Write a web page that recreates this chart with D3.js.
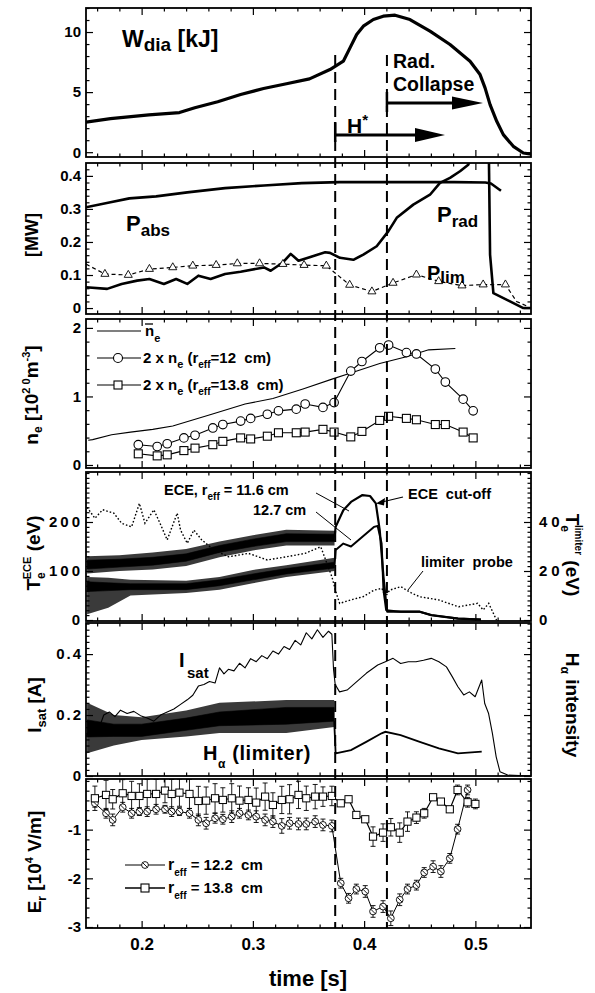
<!DOCTYPE html>
<html>
<head>
<meta charset="utf-8">
<script src="https://cdn.jsdelivr.net/npm/d3@7/dist/d3.min.js"></script>
<style>
html,body{margin:0;padding:0;background:#fff;}
svg text{font-family:"Liberation Sans",Arial,Helvetica,sans-serif;font-weight:bold;fill:#000;white-space:pre;}
</style>
</head>
<body>
<svg id="chart" width="595" height="993"></svg>
<script>
// ================= DATA =================
const timeTicks = [0.2, 0.3, 0.4, 0.5];
const transitions = [0.374, 0.4205];

// Panel 1: diamagnetic energy (kJ)
const wdiaTicks = [0, 5, 10];
const wdiaTime = [0.150,0.172,0.2065,0.234,0.2478,0.2684,0.289,0.3096,0.3302,0.3509,0.3693,0.3813,0.3873,0.3933,0.3993,0.4083,0.4172,0.4278,0.4412,0.4592,0.4772,0.4952,0.5042,0.5087,0.5132,0.5192,0.5251,0.5341,0.5431,0.5536];
const wdiaKJ   = [2.5,2.8,3.1,3.3,3.7,4.2,4.8,5.3,5.7,6.1,6.88,7.57,8.68,9.79,10.49,11.04,11.32,11.4,11.04,10.07,8.96,7.57,6.46,5.35,3.96,2.57,1.46,0.49,-0.07,-0.2];

// Panel 2: powers (MW)
const powerTicks = [0, 0.1, 0.2, 0.3, 0.4];
const pabsTime = [0.150,0.172,0.189,0.213,0.241,0.275,0.310,0.344,0.378,0.413,0.447,0.481,0.509,0.514,0.523];
const pabsMW   = [0.305,0.32,0.332,0.338,0.35,0.363,0.371,0.378,0.381,0.381,0.381,0.381,0.38,0.377,0.355];
const pradTime = [0.150,0.169,0.182,0.196,0.207,0.220,0.231,0.241,0.251,0.262,0.275,0.289,0.310,0.316,0.327,0.334,0.341,0.351,0.365,0.3693,0.3783,0.3903,0.3993,0.4113,0.4217,0.4293,0.4442,0.4592,0.4682,0.4772,0.4862,0.4936,0.502,0.512,0.5132,0.5162,0.5311,0.5431,0.55];
const pradMW   = [0.063,0.058,0.073,0.083,0.088,0.073,0.088,0.073,0.098,0.088,0.103,0.11,0.123,0.113,0.138,0.164,0.143,0.154,0.169,0.167,0.152,0.146,0.162,0.187,0.232,0.273,0.313,0.343,0.379,0.394,0.414,0.434,0.5,0.5,0.162,0.045,0.02,0.0,0];
const plimTime = [0.150,0.167,0.188,0.207,0.228,0.246,0.267,0.286,0.306,0.327,0.346,0.366,0.387,0.407,0.426,0.447,0.467,0.488,0.507,0.527,0.537,0.547];
const plimMW   = [0.133,0.103,0.10,0.118,0.123,0.128,0.13,0.135,0.135,0.133,0.13,0.128,0.07,0.05,0.076,0.101,0.081,0.068,0.071,0.071,0.02,0.005];

// Panel 3: density (1e20 m^-3)
const densityTicks = [0, 1, 2];
const neAvgTime = [0.152,0.156,0.173,0.190,0.210,0.228,0.263,0.293,0.318,0.345,0.3725,0.386,0.414,0.438,0.458,0.482];
const neAvg     = [0.36,0.37,0.44,0.48,0.52,0.57,0.74,0.89,0.97,1.11,1.26,1.33,1.48,1.58,1.68,1.70];
const neLocTime = [0.197,0.214,0.223,0.238,0.248,0.264,0.273,0.289,0.298,0.313,0.323,0.339,0.347,0.363,0.373,0.388,0.398,0.414,0.422,0.438,0.447,0.464,0.473,0.489,0.498];
const ne12cm    = [0.296,0.27,0.31,0.395,0.434,0.54,0.59,0.64,0.68,0.74,0.79,0.815,0.89,0.84,0.91,1.37,1.51,1.71,1.75,1.64,1.62,1.40,1.21,0.96,0.79];
const ne138cm   = [0.163,0.133,0.148,0.21,0.246,0.296,0.345,0.395,0.38,0.42,0.47,0.47,0.48,0.52,0.48,0.41,0.49,0.65,0.71,0.68,0.66,0.59,0.59,0.48,0.395];

// Panel 4: temperatures (eV)
const teTicks = [0, 100, 200];
const teLimTicks = [0, 20, 40];
const ece116BandTime = [0.151,0.18,0.21,0.24,0.27,0.30,0.33,0.3734];
const ece116Upper = [130,132,138,145,160,173,184,182];
const ece116Lower = [95,100,103,110,128,142,152,152];
const ece116CoreUpper = [122,124,128,135,152,165,176,175];
const ece116CoreLower = [104,108,112,120,138,150,160,160];
const ece116Time = [0.3734,0.3744,0.3813,0.3882,0.3985,0.4053,0.4105,0.414,0.4174,0.4198,0.4208,0.4329,0.45,0.4604,0.4844,0.505];
const ece116 = [168,190,224,241,255,253,238,184,88,34,17,17,17,10,3,1];
const ece127BandTime = [0.151,0.17,0.19,0.24,0.27,0.30,0.33,0.3734];
const ece127Upper = [88,86,82,80,88,102,112,127];
const ece127Lower = [12,25,50,55,62,75,88,100];
const ece127CoreUpper = [78,76,74,74,82,94,105,118];
const ece127CoreLower = [58,60,62,62,70,82,94,106];
const ece127Time = [0.3734,0.3744,0.3813,0.3882,0.3985,0.4088,0.4122,0.4157,0.4174,0.4198,0.4329,0.45,0.4604,0.4844,0.505];
const ece127 = [112,143,156,150,170,190,192,156,61,20,17,17,10,3,1];
const teLimTime = [0.151,0.158,0.165,0.175,0.182,0.191,0.198,0.203,0.211,0.216,0.223,0.232,0.235,0.241,0.247,0.254,0.265,0.278,0.296,0.313,0.33,0.347,0.361,0.371,0.375,0.378,0.388,0.399,0.409,0.416,0.419,0.423,0.433,0.443,0.45,0.467,0.485,0.502,0.507,0.512,0.519];
const teLim = [46,41.5,45,43.6,39.5,38,47.6,39.5,45,40,32.7,43.6,36.7,31.3,36.7,32.7,28.6,25.8,27.2,24.5,25.8,27.2,29.9,17.7,10.9,6.8,8.2,9.5,12.2,12.9,9.5,12.2,13.6,10.9,9.5,8.2,5.4,6.8,4.1,6.8,0];

// Panel 5: ion saturation current (A) and H-alpha
const isatTicks = [0, 0.2, 0.4];
const isatTime = [0.150,0.156,0.161,0.166,0.171,0.176,0.181,0.187,0.193,0.199,0.205,0.211,0.217,0.223,0.229,0.235,0.241,0.246,0.251,0.256,0.261,0.266,0.27,0.274,0.278,0.283,0.288,0.293,0.298,0.303,0.308,0.313,0.318,0.323,0.328,0.333,0.338,0.343,0.348,0.353,0.358,0.363,0.368,0.371,0.3725,0.374,0.3779,0.3847,0.3916,0.4019,0.4122,0.4191,0.426,0.4328,0.4397,0.4466,0.4534,0.4603,0.4672,0.474,0.4792,0.4843,0.4895,0.4946,0.4998,0.5057,0.5084,0.5118,0.5153,0.5187,0.5221,0.529,0.55];
const isatA = [0.128,0.175,0.15,0.2,0.21,0.195,0.216,0.205,0.212,0.198,0.19,0.18,0.2,0.21,0.22,0.235,0.25,0.265,0.295,0.3,0.31,0.305,0.355,0.335,0.35,0.345,0.37,0.355,0.385,0.375,0.395,0.385,0.41,0.4,0.425,0.415,0.445,0.43,0.47,0.45,0.48,0.455,0.475,0.465,0.35,0.3,0.276,0.282,0.304,0.337,0.364,0.375,0.386,0.369,0.375,0.375,0.38,0.386,0.375,0.358,0.326,0.293,0.266,0.276,0.26,0.315,0.238,0.206,0.14,0.063,0.014,0.003,0];
const haBandTime = [0.151,0.175,0.2,0.24,0.27,0.33,0.3731];
const haUpper = [0.24,0.2,0.193,0.215,0.24,0.249,0.249];
const haLower = [0.075,0.1,0.118,0.13,0.141,0.141,0.161];
const haCoreUpper = [0.184,0.17,0.17,0.19,0.21,0.225,0.225];
const haCoreLower = [0.128,0.13,0.13,0.15,0.165,0.17,0.18];
const haTime = [0.3731,0.3744,0.3882,0.4019,0.4157,0.4191,0.4328,0.45,0.4672,0.4843,0.5057];
const haVal = [0.18,0.074,0.085,0.112,0.14,0.145,0.134,0.112,0.091,0.074,0.08];

// Panel 6: radial electric field (1e4 V/m)
const erTicks = [-3, -2, -1];
const erTime = [0.158,0.168,0.174,0.183,0.191,0.198,0.205,0.213,0.221,0.227,0.234,0.243,0.251,0.258,0.266,0.273,0.281,0.288,0.296,0.303,0.311,0.318,0.326,0.333,0.341,0.348,0.356,0.363,0.371,0.379,0.386,0.393,0.401,0.408,0.417,0.424,0.432,0.439,0.447,0.454,0.462,0.469,0.477,0.484,0.493,0.500];
const er138 = [-0.356,-0.287,-0.376,-0.253,-0.308,-0.308,-0.267,-0.267,-0.198,-0.267,-0.24,-0.267,-0.411,-0.404,-0.356,-0.39,-0.356,-0.404,-0.39,-0.445,-0.322,-0.493,-0.39,-0.376,-0.287,-0.356,-0.322,-0.322,-0.308,-0.459,-0.376,-0.698,-0.787,-1.143,-1.061,-0.951,-1.061,-0.835,-0.753,-0.664,-0.335,-0.424,-0.582,-0.185,-0.438,-0.472];
const er138Err = [0.25,0.3,0.2,0.28,0.3,0.25,0.3,0.3,0.25,0.3,0.28,0.3,0.3,0.28,0.3,0.25,0.3,0.3,0.25,0.3,0.28,0.25,0.28,0.3,0.28,0.25,0.25,0.2,0.2,0,0,0,0,0.2,0.18,0.18,0.2,0.2,0.12,0.1,0,0,0,0.1,0.1,0.1];
const er122 = [-0.459,-0.664,-0.80,-0.54,-0.664,-0.63,-0.63,-0.582,-0.582,-0.63,-0.63,-0.664,-0.80,-0.869,-0.767,-0.787,-0.733,-0.664,-0.698,-0.733,-0.80,-0.835,-0.924,-0.869,-0.883,-0.883,-0.835,-0.903,-0.924,-2.10,-2.41,-2.22,-2.27,-2.68,-2.58,-2.82,-2.44,-2.22,-2.14,-1.88,-1.76,-1.86,-1.59,-0.99,-0.185];
const er122Err = [0.08,0.1,0.12,0.1,0.1,0.08,0.1,0.1,0.08,0.1,0.08,0.1,0.12,0.12,0.1,0.1,0.12,0.1,0.1,0.12,0.12,0.12,0.15,0.12,0.12,0.12,0.12,0.12,0.12,0.1,0.1,0.1,0.12,0.12,0.12,0.15,0.12,0.1,0.1,0.1,0.12,0.12,0.1,0.1,0.1];

// ================= DRAWING =================
const FONT = '"Liberation Sans", Arial, Helvetica, sans-serif';
const svg = d3.select('#chart');
const defs = svg.append('defs');

const X0 = 86, X1 = 531;
const x = d3.scaleLinear().domain([0.15, 0.55]).range([X0, X1]);
const xMinor = d3.range(8, 28).map(i => +(i * 0.02).toFixed(2)).filter(v => !timeTicks.includes(v));

function styleAxis(a, size, ls) {
  a.select('.domain').remove();
  a.selectAll('.tick line').attr('stroke', '#000').attr('stroke-width', 1.2);
  a.selectAll('.tick text').attr('font-family', FONT).attr('font-weight', 'bold')
    .attr('font-size', size || 15).attr('fill', '#000').attr('letter-spacing', ls || 0);
}
function minorVals(domain, step, skip) {
  const lo = Math.ceil(domain[0] / step - 1e-9), hi = Math.floor(domain[1] / step + 1e-9);
  return d3.range(lo, hi + 1).map(i => +(i * step).toFixed(4)).filter(v => !skip.includes(v));
}

function makePanel(o) {
  const y = d3.scaleLinear().domain(o.domain).range([o.bottom, o.top]);
  const g = svg.append('g');
  const cid = 'clip-' + o.name;
  defs.append('clipPath').attr('id', cid).append('rect')
    .attr('x', X0).attr('y', o.top).attr('width', X1 - X0).attr('height', o.bottom - o.top);
  const plot = g.append('g').attr('clip-path', `url(#${cid})`);
  const axes = g.append('g');
  [[d3.axisBottom, o.bottom], [d3.axisTop, o.top]].forEach(([f, yy]) => {
    axes.append('g').attr('transform', `translate(0,${yy})`)
      .call(f(x).tickValues(timeTicks).tickSize(-7).tickFormat('')).call(s => styleAxis(s));
    axes.append('g').attr('transform', `translate(0,${yy})`)
      .call(f(x).tickValues(xMinor).tickSize(-3.5).tickFormat('')).call(s => styleAxis(s));
  });
  const minors = minorVals(o.domain, o.minorStep, o.yLabels);
  axes.append('g').attr('transform', `translate(${X0},0)`)
    .call(d3.axisLeft(y).tickValues(o.yLabels).tickSize(-7).tickPadding(o.pad || 5).tickFormat(o.fmt))
    .call(s => styleAxis(s, o.fs || 15, o.ls));
  axes.append('g').attr('transform', `translate(${X0},0)`)
    .call(d3.axisLeft(y).tickValues(minors).tickSize(-3.5).tickFormat('')).call(s => styleAxis(s));
  let yr = null;
  if (o.right) {
    yr = d3.scaleLinear().domain(o.right.domain).range([o.bottom, o.top]);
    axes.append('g').attr('transform', `translate(${X1},0)`)
      .call(d3.axisRight(yr).tickValues(o.right.labels).tickSize(-7).tickPadding(8).tickFormat(d => d))
      .call(s => styleAxis(s, 15, o.right.ls));
    axes.append('g').attr('transform', `translate(${X1},0)`)
      .call(d3.axisRight(yr).tickValues(minorVals(o.right.domain, o.right.minorStep, o.right.labels)).tickSize(-3.5).tickFormat(''))
      .call(s => styleAxis(s));
  } else {
    axes.append('g').attr('transform', `translate(${X1},0)`)
      .call(d3.axisRight(y).tickValues(o.yLabels).tickSize(-7).tickFormat('')).call(s => styleAxis(s));
    axes.append('g').attr('transform', `translate(${X1},0)`)
      .call(d3.axisRight(y).tickValues(minors).tickSize(-3.5).tickFormat('')).call(s => styleAxis(s));
  }
  g.append('rect').attr('x', X0).attr('y', o.top).attr('width', X1 - X0).attr('height', o.bottom - o.top)
    .attr('fill', 'none').attr('stroke', '#000').attr('stroke-width', 1.8);
  return { y, yr, g, plot };
}

function rich(parent, px, py, parts, attrs) {
  const t = parent.append('text').attr('x', px).attr('y', py);
  if (attrs) Object.entries(attrs).forEach(([k, v]) => t.attr(k, v));
  let cur = 0;
  parts.forEach(p => {
    const [s, fs, off = 0, dx = 0] = p;
    const ts = t.append('tspan').attr('font-size', fs).attr('dy', off - cur).text(s);
    if (dx) ts.attr('dx', dx);
    cur = off;
  });
  return t;
}
function rotLabel(cx, cy, angle, parts) {
  const g = svg.append('g').attr('transform', `translate(${cx},${cy}) rotate(${angle})`);
  rich(g, 0, 0, parts, { 'text-anchor': 'middle' });
}
function linePath(scaleY, ts, vs) {
  return d3.line().x(d => x(d[0])).y(d => scaleY(d[1]))(d3.zip(ts, vs));
}
function bandArea(ys, ts, lo, hi) {
  return d3.area().x(d => x(d[0])).y0(d => ys(d[1])).y1(d => ys(d[2]))(d3.zip(ts, lo, hi));
}
function noisyBand(p, ts, lo, hi, clo, chi) {
  p.plot.append('path').attr('d', bandArea(p.y, ts, lo, hi)).attr('fill', '#3a3a3a');
  p.plot.append('path').attr('d', bandArea(p.y, ts, clo, chi)).attr('fill', '#000').attr('stroke', '#000').attr('stroke-width', 0.6);
}
function arrowHead(g, tipX, tipY, len, half) {
  g.append('path').attr('d', d3.line()([[tipX - len, tipY - half], [tipX, tipY], [tipX - len, tipY + half]]) + 'Z')
    .attr('fill', '#000');
}

const fmt1 = d => d === 0 ? '0' : d3.format('.1f')(d);

// ---------- Panel 1 ----------
const p1 = makePanel({ name: 'w', top: 8, bottom: 157, domain: [-0.4, 12], yLabels: wdiaTicks, minorStep: 1, fmt: d3.format('d') });
p1.plot.append('path').attr('d', linePath(p1.y, wdiaTime, wdiaKJ))
  .attr('fill', 'none').attr('stroke', '#000').attr('stroke-width', 3.2).attr('stroke-linejoin', 'round');
rich(svg, 122, 47, [['W', 23], ['dia', 19, 4], [' [kJ]', 23, 0]]);
rich(svg, 393, 68, [['Rad.', 19.5]]);
rich(svg, 393, 91, [['Collapse', 19.5]]);
{
  const ya = 103, xs = x(transitions[1]), xe = 483;
  svg.append('line').attr('x1', xs).attr('x2', xe - 12).attr('y1', ya).attr('y2', ya).attr('stroke', '#000').attr('stroke-width', 3);
  arrowHead(svg, xe, ya, 31, 6.5);
  const yb = 135, xs2 = x(transitions[0]), xe2 = 445;
  svg.append('line').attr('x1', xs2).attr('x2', xe2 - 12).attr('y1', yb).attr('y2', yb).attr('stroke', '#000').attr('stroke-width', 3);
  arrowHead(svg, xe2, yb, 30, 7);
  svg.append('line').attr('x1', xs2).attr('x2', xs2).attr('y1', 122).attr('y2', 142).attr('stroke', '#000').attr('stroke-width', 2.5);
  svg.append('line').attr('x1', xs).attr('x2', xs).attr('y1', 92).attr('y2', 112).attr('stroke', '#000').attr('stroke-width', 2.5);
  rich(svg, 347, 133, [['H', 21], ['*', 15, -8]]);
}

// ---------- Panel 2 ----------
const p2 = makePanel({ name: 'p', top: 163, bottom: 314, domain: [-0.018, 0.439], yLabels: powerTicks, minorStep: 0.02, fmt: fmt1 });
p2.plot.append('path').attr('d', linePath(p2.y, pabsTime, pabsMW))
  .attr('fill', 'none').attr('stroke', '#000').attr('stroke-width', 2.6).attr('stroke-linejoin', 'round');
p2.plot.append('path').attr('d', linePath(p2.y, pradTime, pradMW))
  .attr('fill', 'none').attr('stroke', '#000').attr('stroke-width', 2.6).attr('stroke-linejoin', 'round');
p2.plot.append('path').attr('d', linePath(p2.y, plimTime, plimMW))
  .attr('fill', 'none').attr('stroke', '#000').attr('stroke-width', 1.2).attr('stroke-dasharray', '4,3');
p2.plot.selectAll('path.tri').data(d3.zip(plimTime, plimMW).slice(1, 20)).join('path').attr('class', 'tri')
  .attr('transform', d => `translate(${x(d[0])},${p2.y(d[1])})`)
  .attr('d', d3.symbol(d3.symbolTriangle, 28)).attr('fill', '#fff').attr('stroke', '#000').attr('stroke-width', 0.9);
rich(svg, 126, 231, [['P', 22], ['abs', 17, 5]]);
rich(svg, 437, 222, [['P', 22], ['rad', 17, 5]]);
rich(svg, 427, 280, [['P', 20], ['lim', 17, 3]], { 'font-weight': 'normal', fill: '#222' });
rotLabel(38, 235, -90, [['[MW]', 18]]);

// ---------- Panel 3 ----------
const p3 = makePanel({ name: 'n', top: 319, bottom: 468, domain: [-0.044, 2.13], yLabels: densityTicks, minorStep: 0.2, fmt: d3.format('d') });
p3.plot.append('path').attr('d', linePath(p3.y, neAvgTime, neAvg))
  .attr('fill', 'none').attr('stroke', '#000').attr('stroke-width', 1.1);
p3.plot.append('path').attr('d', linePath(p3.y, neLocTime, ne12cm))
  .attr('fill', 'none').attr('stroke', '#000').attr('stroke-width', 1.1);
p3.plot.append('path').attr('d', linePath(p3.y, neLocTime, ne138cm))
  .attr('fill', 'none').attr('stroke', '#000').attr('stroke-width', 1.1);
p3.plot.selectAll('circle.c').data(d3.zip(neLocTime, ne12cm)).join('circle').attr('class', 'c')
  .attr('cx', d => x(d[0])).attr('cy', d => p3.y(d[1])).attr('r', 4.3)
  .attr('fill', '#fff').attr('stroke', '#000').attr('stroke-width', 1.1);
p3.plot.selectAll('rect.s').data(d3.zip(neLocTime, ne138cm)).join('rect').attr('class', 's')
  .attr('x', d => x(d[0]) - 4).attr('y', d => p3.y(d[1]) - 4).attr('width', 8).attr('height', 8)
  .attr('fill', '#fff').attr('stroke', '#000').attr('stroke-width', 1.1);
svg.append('line').attr('x1', 97).attr('x2', 141).attr('y1', 331).attr('y2', 331).attr('stroke', '#000').attr('stroke-width', 1.1);
rich(svg, 145, 336, [['n', 15], ['e', 11, 6]]);
svg.append('line').attr('x1', 145).attr('x2', 153).attr('y1', 324).attr('y2', 324).attr('stroke', '#000').attr('stroke-width', 1.3);
svg.append('line').attr('x1', 97).attr('x2', 141).attr('y1', 358).attr('y2', 358).attr('stroke', '#000').attr('stroke-width', 1.1);
svg.append('circle').attr('cx', 118).attr('cy', 358).attr('r', 4.5).attr('fill', '#fff').attr('stroke', '#000').attr('stroke-width', 1.1);
rich(svg, 143, 363, [['2 x n', 15], ['e', 11, 5], [' (r', 15, 0], ['eff', 10, 5], ['=12  cm)', 15, 0]]);
svg.append('line').attr('x1', 97).attr('x2', 141).attr('y1', 385).attr('y2', 385).attr('stroke', '#000').attr('stroke-width', 1.1);
svg.append('rect').attr('x', 114).attr('y', 381).attr('width', 8).attr('height', 8).attr('fill', '#fff').attr('stroke', '#000').attr('stroke-width', 1.1);
rich(svg, 143, 390, [['2 x n', 15], ['e', 11, 5], [' (r', 15, 0], ['eff', 10, 5], ['=13.8  cm)', 15, 0]]);
rotLabel(38, 395, -90, [['n', 19], ['e', 12, 4], [' [10', 19, 0], ['2 0', 11, -8], ['m', 19, 0], ['-3', 11, -8], [']', 19, 0]]);

// ---------- Panel 4 ----------
const p4 = makePanel({ name: 't', top: 472, bottom: 621, domain: [-2, 302], yLabels: teTicks, minorStep: 10, fmt: d => d, ls: 3, pad: 3,
  right: { domain: [-0.4, 60.4], labels: teLimTicks, minorStep: 2, ls: 4 } });
noisyBand(p4, ece116BandTime, ece116Lower, ece116Upper, ece116CoreLower, ece116CoreUpper);
noisyBand(p4, ece127BandTime, ece127Lower, ece127Upper, ece127CoreLower, ece127CoreUpper);
p4.plot.append('path').attr('d', linePath(p4.y, ece116Time, ece116))
  .attr('fill', 'none').attr('stroke', '#000').attr('stroke-width', 2.2).attr('stroke-linejoin', 'round');
p4.plot.append('path').attr('d', linePath(p4.y, ece127Time, ece127))
  .attr('fill', 'none').attr('stroke', '#000').attr('stroke-width', 2.0).attr('stroke-linejoin', 'round');
p4.plot.append('path').attr('d', linePath(p4.yr, teLimTime, teLim))
  .attr('fill', 'none').attr('stroke', '#000').attr('stroke-width', 1.4).attr('stroke-dasharray', '1.6,2');
rich(svg, 164, 495, [['ECE, r', 14.5], ['eff', 10, 5], [' = 11.6 cm', 14.5, 0]]);
rich(svg, 253, 515, [['12.7 cm', 14.5]]);
rich(svg, 408, 499, [['ECE  cut-off', 14.5]]);
rich(svg, 421, 567, [['limiter  probe', 14.5]]);
svg.append('line').attr('x1', 316).attr('y1', 493).attr('x2', 349).attr('y2', 511).attr('stroke', '#000').attr('stroke-width', 1);
svg.append('line').attr('x1', 316).attr('y1', 512).attr('x2', 351).attr('y2', 540).attr('stroke', '#000').attr('stroke-width', 1);
svg.append('line').attr('x1', 403).attr('y1', 497).attr('x2', 382).attr('y2', 502).attr('stroke', '#000').attr('stroke-width', 1.2);
svg.append('path').attr('d', d3.line()([[376, 503.5], [385, 498], [384, 505.5]]) + 'Z').attr('fill', '#000');
svg.append('line').attr('x1', 423).attr('y1', 571).attr('x2', 408).attr('y2', 590).attr('stroke', '#000').attr('stroke-width', 1);
rotLabel(40, 553, -90, [['T', 19], ['e', 12, 5], ['ECE', 11, -9, -7], [' (eV)', 19, 0]]);
rotLabel(566, 555, 90, [['T', 19], ['e', 12, 5], ['limiter', 10, -9, -7], [' (eV)', 19, 0]]);

// ---------- Panel 5 ----------
const p5 = makePanel({ name: 'i', top: 623, bottom: 776, domain: [0, 0.502], yLabels: isatTicks, minorStep: 0.02, fmt: fmt1, ls: 2, pad: 3 });
noisyBand(p5, haBandTime, haLower, haUpper, haCoreLower, haCoreUpper);
p5.plot.append('path').attr('d', linePath(p5.y, haTime, haVal))
  .attr('fill', 'none').attr('stroke', '#000').attr('stroke-width', 1.8);
p5.plot.append('path').attr('d', linePath(p5.y, isatTime, isatA))
  .attr('fill', 'none').attr('stroke', '#000').attr('stroke-width', 1.1).attr('stroke-linejoin', 'round');
rich(svg, 179, 667, [['I', 20]]);
rich(svg, 187, 678, [['sat', 15]]);
rich(svg, 203, 760, [['H', 20], ['α', 12, 8], [' (limiter)', 20, 0]], { 'letter-spacing': 0.6 });
rotLabel(41, 705, -90, [['I', 19], ['sat', 13, 5], [' [A]', 19, 0]]);
rotLabel(566, 705, 90, [['H', 19], ['α', 12, 5], [' intensity', 19, 0]]);

// ---------- Panel 6 ----------
const p6 = makePanel({ name: 'e', top: 779, bottom: 928, domain: [-3.02, 0.04], yLabels: erTicks, minorStep: 0.2, fmt: d => String(d) });
function errBars(ts, vs, es) {
  const data = d3.zip(ts, vs, es).filter(d => d[2] > 0);
  const g = p6.plot.append('g').attr('stroke', '#000').attr('stroke-width', 0.9);
  data.forEach(d => {
    const cx = x(d[0]), y1 = p6.y(d[1] - d[2]), y2 = p6.y(d[1] + d[2]);
    g.append('line').attr('x1', cx).attr('x2', cx).attr('y1', y1).attr('y2', y2);
    g.append('line').attr('x1', cx - 2.5).attr('x2', cx + 2.5).attr('y1', y1).attr('y2', y1);
    g.append('line').attr('x1', cx - 2.5).attr('x2', cx + 2.5).attr('y1', y2).attr('y2', y2);
  });
}
errBars(erTime, er138, er138Err);
errBars(erTime, er122, er122Err);
p6.plot.append('path').attr('d', linePath(p6.y, erTime.slice(0, er122.length), er122))
  .attr('fill', 'none').attr('stroke', '#000').attr('stroke-width', 1.0);
p6.plot.append('path').attr('d', linePath(p6.y, erTime, er138))
  .attr('fill', 'none').attr('stroke', '#000').attr('stroke-width', 1.2);
function slashCircle(g, cx, cy) {
  g.append('circle').attr('cx', cx).attr('cy', cy).attr('r', 3.4).attr('fill', '#fff').attr('stroke', '#000').attr('stroke-width', 0.9);
  g.append('line').attr('x1', cx - 2.4).attr('y1', cy - 2.4).attr('x2', cx + 2.4).attr('y2', cy + 2.4).attr('stroke', '#000').attr('stroke-width', 0.9);
}
d3.zip(erTime, er122).forEach(d => slashCircle(p6.plot, x(d[0]), p6.y(d[1])));
p6.plot.selectAll('rect.q').data(d3.zip(erTime, er138)).join('rect').attr('class', 'q')
  .attr('x', d => x(d[0]) - 3.6).attr('y', d => p6.y(d[1]) - 3.6).attr('width', 7.2).attr('height', 7.2)
  .attr('fill', '#fff').attr('stroke', '#000').attr('stroke-width', 1);
svg.append('line').attr('x1', 125).attr('x2', 165).attr('y1', 865).attr('y2', 865).attr('stroke', '#000').attr('stroke-width', 1);
slashCircle(svg, 145, 865);
rich(svg, 168, 870, [['r', 16], ['eff', 10, 6], [' = 12.2  cm', 15, 0]]);
svg.append('line').attr('x1', 125).attr('x2', 165).attr('y1', 888).attr('y2', 888).attr('stroke', '#000').attr('stroke-width', 1.3);
svg.append('rect').attr('x', 141).attr('y', 884).attr('width', 8).attr('height', 8).attr('fill', '#fff').attr('stroke', '#000').attr('stroke-width', 1.1);
rich(svg, 168, 893, [['r', 16], ['eff', 10, 6], [' = 13.8  cm', 15, 0]]);
rotLabel(41, 862, -90, [['E', 19], ['r', 12, 5], [' [10', 19, 0], ['4', 11, -8], [' V/m]', 19, 0]]);

// x labels on bottom panel
svg.append('g').attr('transform', 'translate(0,928)')
  .call(d3.axisBottom(x).tickValues(timeTicks).tickSize(0).tickPadding(10).tickFormat(d3.format('.1f')))
  .call(s => { s.select('.domain').remove(); styleAxis(s, 17); });
svg.append('text').attr('x', 308).attr('y', 986).attr('text-anchor', 'middle').attr('font-size', 22).text('time [s]');

// dashed transition lines across all panels
svg.selectAll('line.tr').data(transitions).join('line').attr('class', 'tr')
  .attr('x1', d => x(d)).attr('x2', d => x(d)).attr('y1', 55).attr('y2', 928)
  .attr('stroke', '#000').attr('stroke-width', 2).attr('stroke-dasharray', '11,6');
</script>
</body>
</html>
